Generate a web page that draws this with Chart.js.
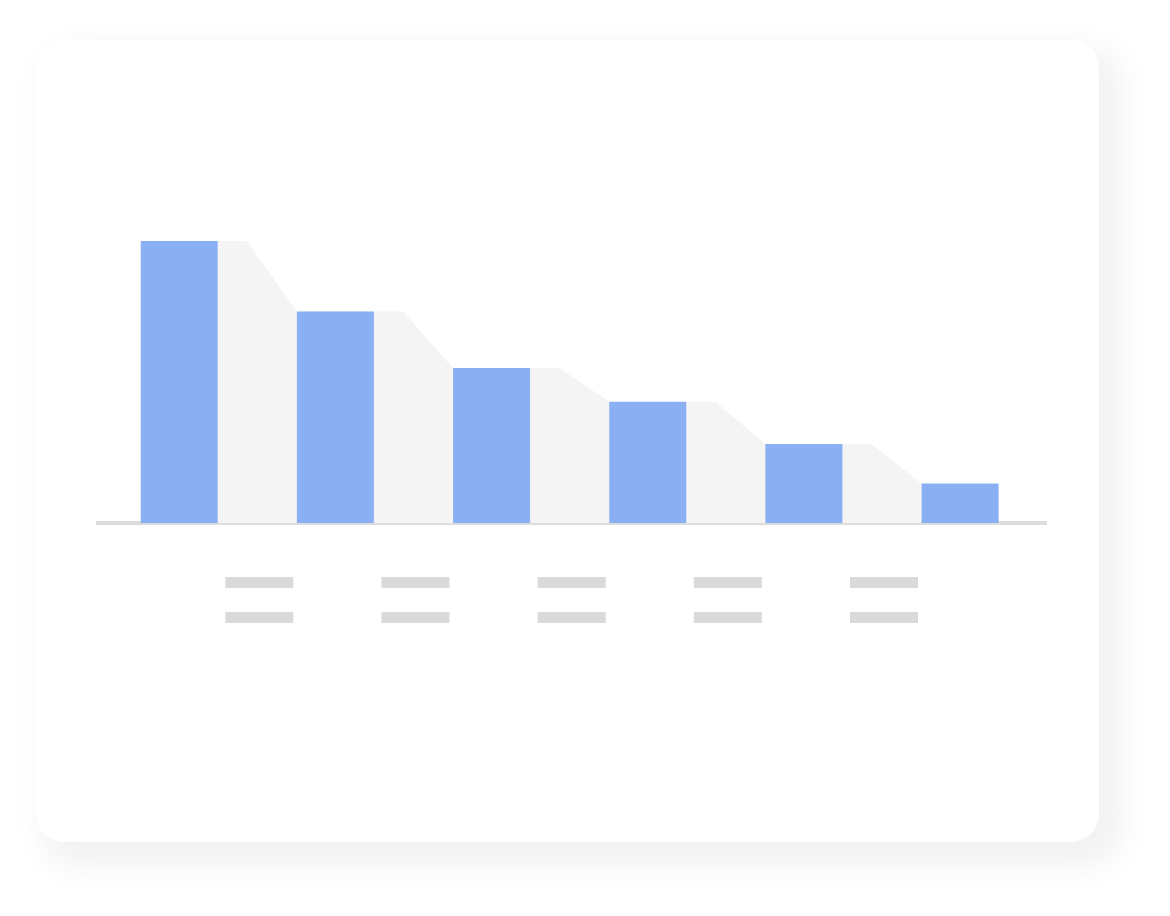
<!DOCTYPE html>
<html>
<head>
<meta charset="utf-8">
<script src="https://cdn.jsdelivr.net/npm/chart.js@4.4.1/dist/chart.umd.min.js"></script>
<style>
    html, body {
        margin: 0;
        padding: 0;
        width: 1170px;
        height: 916px;
        background: #ffffff;
        overflow: hidden;
    }
    .card {
        position: absolute;
        left: 36px;
        top: 40px;
        width: 1063px;
        height: 802px;
        border-radius: 28px;
        background: #ffffff;
        box-shadow: 14px 16px 30px 10px rgba(0, 0, 0, 0.05);
    }
    #funnel-wrap {
        position: absolute;
        left: 0;
        top: 0;
        width: 1170px;
        height: 916px;
    }
</style>
</head>
<body>
<div class="card"></div>
<div id="funnel-wrap"><canvas id="funnel-chart"></canvas></div>
<script>
// Funnel stages (first stage = 100)
const stages = ['Stage 1', 'Stage 2', 'Stage 3', 'Stage 4', 'Stage 5', 'Stage 6'];
const stageValues = [100, 75, 55, 43, 28, 14];
// One label placeholder (two grey lines) sits under each gap between stages
const gapLabels = ['', '', '', '', ''];

// Shape of the drop-off band, in stage units
const BAR_HALF = 0.2465;   // half a bar width
const FLAT_RUN = 0.186;    // flat part of the band before it slopes down

const BAR_COLOR = '#8aaff2';
const BAND_COLOR = '#f4f4f4';
const AXIS_COLOR = '#dcdcdd';
const PLACEHOLDER_COLOR = '#dadadc';

// Bars as {x, y} points on a linear x axis
const barPoints = stageValues.map((v, i) => ({ x: i, y: v }));

// Drop-off band: flat after each bar, then a slope down to the next bar
const bandPoints = [];
stageValues.forEach((v, i) => {
    if (i > 0) {
        bandPoints.push({ x: i - BAR_HALF, y: v });
    }
    if (i < stageValues.length - 1) {
        bandPoints.push({ x: i + BAR_HALF, y: v });
        bandPoints.push({ x: i + BAR_HALF + FLAT_RUN, y: v });
    }
});

// Grey bars standing in for the axis labels under each gap
const labelPlaceholders = {
    id: 'labelPlaceholders',
    afterDraw(chart) {
        const ctx = chart.ctx;
        const xScale = chart.scales.x;
        const base = xScale.top;
        ctx.save();
        ctx.fillStyle = PLACEHOLDER_COLOR;
        gapLabels.forEach((_, i) => {
            const cx = xScale.getPixelForValue(i + 0.5) + 2;
            ctx.fillRect(cx - 34, base + 54, 68, 11);
            ctx.fillRect(cx - 34, base + 89, 68, 11);
        });
        ctx.restore();
    }
};

const funnelCtx = document.getElementById('funnel-chart').getContext('2d');
const funnelChart = new Chart(funnelCtx, {
    type: 'bar',
    data: {
        datasets: [
            {
                type: 'bar',
                label: 'Stage value',
                data: barPoints,
                backgroundColor: BAR_COLOR,
                borderWidth: 0,
                categoryPercentage: 1,
                barPercentage: BAR_HALF * 2,
                order: 0
            },
            {
                type: 'line',
                label: 'Drop-off',
                data: bandPoints,
                fill: 'origin',
                backgroundColor: BAND_COLOR,
                borderWidth: 0,
                pointRadius: 0,
                tension: 0,
                order: 1
            }
        ]
    },
    options: {
        responsive: true,
        maintainAspectRatio: false,
        animation: false,
        layout: {
            padding: { left: 98, right: 124, top: 241, bottom: 393 }
        },
        scales: {
            x: {
                type: 'linear',
                min: -0.52,
                max: 5.55,
                offset: false,
                z: 1,
                grid: { display: false, drawTicks: false, offset: false },
                border: { display: true, color: AXIS_COLOR, width: 4 },
                ticks: { display: false, stepSize: 1, includeBounds: false }
            },
            y: {
                display: false,
                min: 0,
                max: 100
            }
        },
        plugins: {
            legend: { display: false },
            tooltip: { enabled: false }
        }
    },
    plugins: [labelPlaceholders]
});
</script>
</body>
</html>
